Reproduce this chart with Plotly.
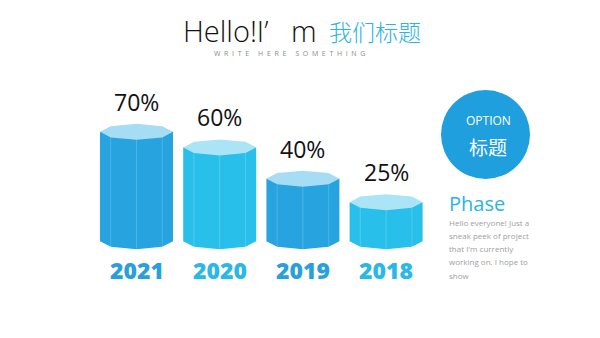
import numpy as np
import plotly.graph_objects as go

# Chart data
years = ["2021", "2020", "2019", "2018"]
values = [70, 60, 40, 25]
labels = ["70%", "60%", "40%", "25%"]

# Alternating palette: side colour, top-face colour
side_colors = ["#27A3E0", "#28C0EA", "#27A3E0", "#28C0EA"]
top_colors = ["#A6DDF4", "#ABE4F7", "#A6DDF4", "#ABE4F7"]
year_colors = ["#2A9FDB", "#2BB8E6", "#2A9FDB", "#2BB8E6"]

body_lines = [
    "Hello everyone! Just a",
    "sneak peek of project",
    "that I'm currently",
    "working on. I hope to",
    "show",
]

W, H = 600, 338
# Axis scales (pixels per unit)
PX_X = 83.2
PX_Y = 1.563
BASE_PX = 241.2
FIRST_CX = 136.5

x_range = [-FIRST_CX / PX_X, (W - FIRST_CX) / PX_X]
y_range = [-(H - BASE_PX) / PX_Y, BASE_PX / PX_Y]

half_w = 36.5 / PX_X      # prism half-width in x units
ry = 8.0 / PX_Y           # squash of the octagonal cap in y units

angles = np.deg2rad(np.arange(0, 360, 45))

fig = go.Figure()

for i, (yr, v) in enumerate(zip(years, values)):
    cx = i
    # side body: left edge up, across top, right edge down, lower half of base octagon
    bottom_ang = np.deg2rad([0, -45, -90, -135, -180])
    sx = [cx - half_w, cx - half_w, cx + half_w] + list(cx + half_w * np.cos(bottom_ang))
    sy = [0, v, v] + list(0 + ry * np.sin(bottom_ang))
    fig.add_trace(go.Scatter(
        x=sx, y=sy, mode="lines", fill="toself",
        fillcolor=side_colors[i], line=dict(width=0),
        hoverinfo="skip", showlegend=False,
    ))
    # vertical edges on the front faces
    for a in np.deg2rad([-45, -90, -135]):
        ex = cx + half_w * np.cos(a)
        fig.add_trace(go.Scatter(
            x=[ex, ex], y=[v + ry * np.sin(a), ry * np.sin(a)], mode="lines",
            line=dict(color="rgba(255,255,255,0.18)", width=1),
            hoverinfo="skip", showlegend=False,
        ))
    # top cap
    tx = list(cx + half_w * np.cos(angles)) + [cx + half_w]
    ty = list(v + ry * np.sin(angles)) + [v]
    fig.add_trace(go.Scatter(
        x=tx, y=ty, mode="lines", fill="toself",
        fillcolor=top_colors[i], line=dict(width=0),
        hoverinfo="skip", showlegend=False,
    ))

annotations = []
for i, (yr, v, lab) in enumerate(zip(years, values, labels)):
    annotations.append(dict(
        x=i, y=v, xref="x", yref="y", text=lab, showarrow=False,
        xanchor="center", yanchor="middle", yshift=30,
        font=dict(family="Open Sans", size=23, color="#111111"),
    ))
    annotations.append(dict(
        x=i, y=0, xref="x", yref="y", text=yr, showarrow=False,
        xanchor="center", yanchor="middle", yshift=-29,
        font=dict(family="Open Sans", size=23, color=year_colors[i], weight=800),
    ))


def px(x, y):
    return x / W, 1 - y / H


NB = "\u00a0"

# heading
hx, hy = px(181, 30)
annotations.append(dict(
    x=hx, y=hy, xref="paper", yref="paper", xanchor="left", yanchor="middle",
    text="Hello!I’" + NB * 3 + "m", showarrow=False,
    font=dict(family="Open Sans", size=29, color="#111111", weight=300),
))
cx_, cy_ = px(327, 31)
annotations.append(dict(
    x=cx_, y=cy_, xref="paper", yref="paper", xanchor="left", yanchor="middle",
    text="我们标题", showarrow=False,
    font=dict(family="Noto Sans CJK SC", size=23, color="#2AB4E5", weight=300),
))
sub_text = (NB * 5).join((NB * 2).join(word) for word in ["WRITE", "HERE", "SOMETHING"])
sx_, sy_ = px(289, 53)
annotations.append(dict(
    x=sx_, y=sy_, xref="paper", yref="paper", xanchor="center", yanchor="middle",
    text=sub_text, showarrow=False,
    font=dict(family="Open Sans", size=7, color="#8A8A8A"),
))

# circle badge text
ox, oy = px(488, 121)
annotations.append(dict(
    x=ox, y=oy, xref="paper", yref="paper", xanchor="center", yanchor="middle",
    text="OPTION", showarrow=False,
    font=dict(family="Open Sans", size=12, color="white"),
))
tx_, ty_ = px(488, 146)
annotations.append(dict(
    x=tx_, y=ty_, xref="paper", yref="paper", xanchor="center", yanchor="middle",
    text="标题", showarrow=False,
    font=dict(family="Noto Sans CJK SC", size=19, color="white"),
))

# side text block
phx, phy = px(447, 203)
annotations.append(dict(
    x=phx, y=phy, xref="paper", yref="paper", xanchor="left", yanchor="middle",
    text="Phase", showarrow=False,
    font=dict(family="Open Sans", size=20, color="#2AB4E5"),
))
for k, line in enumerate(body_lines):
    bx, by = px(447, 222 + 13.3 * k)
    annotations.append(dict(
        x=bx, y=by, xref="paper", yref="paper", xanchor="left", yanchor="middle",
        text=line, showarrow=False,
        font=dict(family="Open Sans", size=8, color="#A0A0A0"),
    ))

fig.update_layout(
    width=W, height=H,
    margin=dict(l=0, r=0, t=0, b=0),
    paper_bgcolor="white", plot_bgcolor="white",
    xaxis=dict(range=x_range, visible=False, fixedrange=True),
    yaxis=dict(range=y_range, visible=False, fixedrange=True),
    annotations=annotations,
    shapes=[dict(
        type="circle", xref="paper", yref="paper",
        x0=441 / W, x1=530 / W, y0=1 - 179 / H, y1=1 - 90 / H,
        fillcolor="#1F9FDD", line=dict(width=0), layer="below",
    )],
    showlegend=False,
)

fig.write_html("out.html")
